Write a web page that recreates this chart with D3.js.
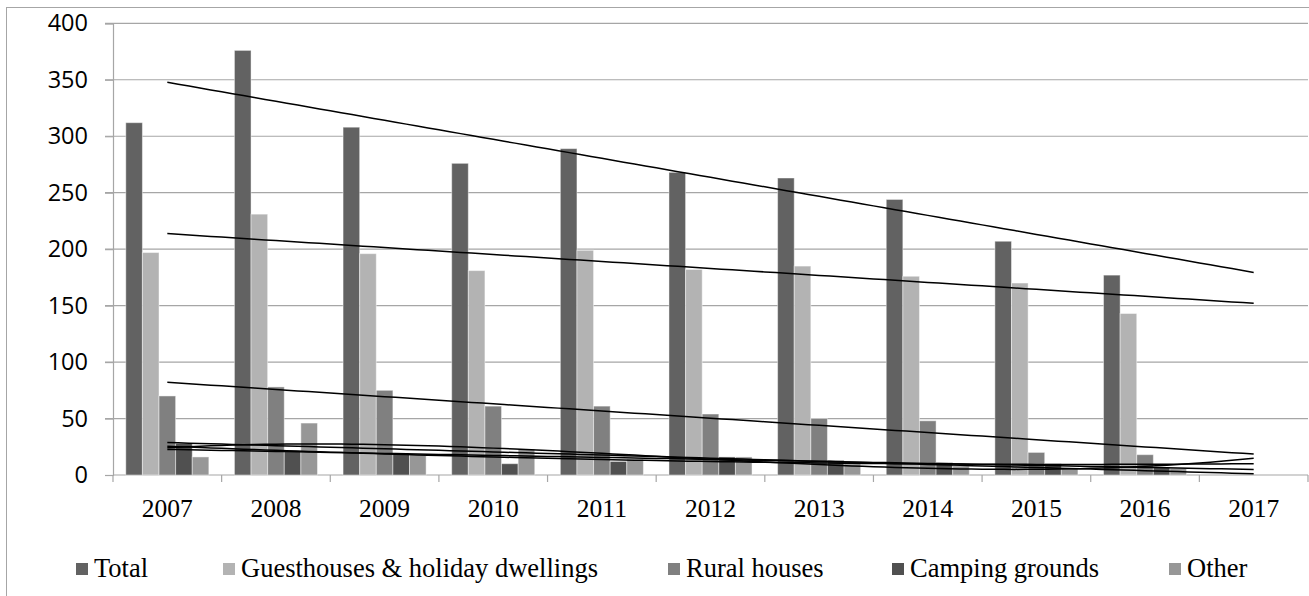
<!DOCTYPE html>
<html>
<head>
<meta charset="utf-8">
<script src="https://cdn.jsdelivr.net/npm/d3@7"></script>
<style>
  body { margin: 0; background: #fff; }
  svg { display: block; }
</style>
</head>
<body>
<svg id="chart" width="1309" height="596"></svg>
<script>
// data
const years = ["2007", "2008", "2009", "2010", "2011", "2012", "2013", "2014", "2015", "2016", "2017"];
const seriesNames = ["Total", "Guesthouses & holiday dwellings", "Rural houses", "Camping grounds", "Other"];
const total   = [312, 376, 308, 276, 289, 268, 263, 244, 207, 177, null];
const guest   = [197, 231, 196, 181, 199, 182, 185, 176, 170, 143, null];
const rural   = [70, 78, 75, 61, 61, 54, 50, 48, 20, 18, null];
const camping = [28, 21, 19, 10, 12, 16, 13, 11, 10, 7, null];
const other   = [16, 46, 18, 23, 14, 16, 10, 8, 6, 6, null];
const yTicks  = [0, 50, 100, 150, 200, 250, 300, 350, 400];

const seriesValues = [total, guest, rural, camping, other];
const colors = ["#626262", "#b3b3b3", "#808080", "#505050", "#979797"];

// trendlines: [series index, polynomial order]
const trends = [[0, 1], [1, 1], [2, 1], [3, 1], [4, 1], [3, 2], [4, 3]];

const svg = d3.select("#chart");
const plotLeft = 113, plotRight = 1308, plotTop = 23.3, plotBottom = 475;

// chart frame
svg.append("rect")
  .attr("x", 6.5).attr("y", 7.5)
  .attr("width", 1400).attr("height", 700)
  .attr("fill", "none").attr("stroke", "#a6a6a6").attr("stroke-width", 1);

const x = d3.scaleBand().domain(years).range([plotLeft, plotRight]).padding(0);
const xs = d3.scaleBand().domain(seriesNames).range([0, x.bandwidth()])
  .paddingInner(0).paddingOuter(0.77);
const y = d3.scaleLinear().domain([0, 400]).range([plotBottom, plotTop]);
// position for a (possibly fractional) 1-based category index
const xIdx = d3.scaleLinear().domain([1, 11])
  .range([x(years[0]) + x.bandwidth() / 2, x(years[10]) + x.bandwidth() / 2]);

// gridlines
svg.append("g").selectAll("line")
  .data(yTicks.filter(d => d > 0))
  .join("line")
  .attr("x1", plotLeft - 8).attr("x2", plotRight)
  .attr("y1", d => y(d)).attr("y2", d => y(d))
  .attr("stroke", "#a6a6a6").attr("stroke-width", 1.2);

// y axis
const yAxis = svg.append("g")
  .attr("transform", `translate(${plotLeft},0)`)
  .call(d3.axisLeft(y).tickValues(yTicks).tickSize(8).tickPadding(17));
yAxis.select(".domain").attr("stroke", "#a6a6a6").attr("stroke-width", 1.2);
yAxis.selectAll(".tick line").attr("stroke", "#a6a6a6").attr("stroke-width", 1.2);
yAxis.selectAll(".tick text")
  .attr("font-family", "'Open Sans', sans-serif")
  .attr("font-size", 23.5).attr("fill", "#000");

// x axis
const xAxisG = svg.append("g").attr("transform", `translate(0,${plotBottom})`);
xAxisG.append("line")
  .attr("x1", plotLeft).attr("x2", plotRight).attr("y1", 0).attr("y2", 0)
  .attr("stroke", "#a6a6a6").attr("stroke-width", 1.2);
xAxisG.selectAll(".cat-tick")
  .data(years.map(d => x(d)).concat([plotRight]))
  .join("line")
  .attr("class", "cat-tick")
  .attr("x1", d => d).attr("x2", d => d)
  .attr("y1", 0).attr("y2", 7)
  .attr("stroke", "#a6a6a6").attr("stroke-width", 1.2);
xAxisG.selectAll("text")
  .data(years)
  .join("text")
  .attr("x", d => x(d) + x.bandwidth() / 2)
  .attr("y", 42)
  .attr("text-anchor", "middle")
  .attr("font-family", "'Liberation Serif', 'Times New Roman', serif")
  .attr("font-size", 25.5)
  .text(d => d);

// bars
const groups = svg.append("g").selectAll("g")
  .data(years)
  .join("g")
  .attr("transform", d => `translate(${x(d)},0)`);
groups.selectAll("rect")
  .data((d, i) => seriesNames.map((s, k) => ({ s, k, v: seriesValues[k][i] })).filter(e => e.v != null))
  .join("rect")
  .attr("x", d => xs(d.s))
  .attr("width", xs.bandwidth())
  .attr("y", d => y(d.v))
  .attr("height", d => y(0) - y(d.v))
  .attr("fill", d => colors[d.k])
  .attr("stroke", "rgba(255,255,255,0.45)")
  .attr("stroke-width", 1);

// least squares polynomial fit
function polyFit(xv, yv, order) {
  const n = order + 1;
  const A = Array.from({ length: n }, () => new Array(n + 1).fill(0));
  for (let p = 0; p < xv.length; p++) {
    for (let r = 0; r < n; r++) {
      for (let c = 0; c < n; c++) A[r][c] += Math.pow(xv[p], r + c);
      A[r][n] += yv[p] * Math.pow(xv[p], r);
    }
  }
  for (let c = 0; c < n; c++) {
    let piv = c;
    for (let r = c + 1; r < n; r++) if (Math.abs(A[r][c]) > Math.abs(A[piv][c])) piv = r;
    [A[c], A[piv]] = [A[piv], A[c]];
    for (let r = 0; r < n; r++) {
      if (r === c) continue;
      const f = A[r][c] / A[c][c];
      for (let k = c; k <= n; k++) A[r][k] -= f * A[c][k];
    }
  }
  const coef = A.map((row, i) => row[n] / row[i]);
  return t => coef.reduce((s, a, i) => s + a * Math.pow(t, i), 0);
}

const line = d3.line().x(d => xIdx(d[0])).y(d => y(d[1]));
trends.forEach(([k, order]) => {
  const pts = seriesValues[k].map((v, i) => [i + 1, v]).filter(d => d[1] != null);
  const f = polyFit(pts.map(d => d[0]), pts.map(d => d[1]), order);
  const samples = d3.range(1, 11.001, 0.1).map(t => [t, f(t)]);
  svg.append("path")
    .attr("d", line(samples))
    .attr("fill", "none")
    .attr("stroke", "#000")
    .attr("stroke-width", 1.5);
});

// legend
const legendX = [76, 223, 668, 892, 1169];
const legend = svg.append("g").selectAll("g")
  .data(seriesNames)
  .join("g")
  .attr("transform", (d, i) => `translate(${legendX[i]},0)`);
legend.append("rect")
  .attr("x", 0).attr("y", 563).attr("width", 12).attr("height", 12)
  .attr("fill", (d, i) => colors[i]);
legend.append("text")
  .attr("x", 18).attr("y", 577)
  .attr("font-family", "'Liberation Serif', 'Times New Roman', serif")
  .attr("font-size", 26.5)
  .text(d => d);
</script>
</body>
</html>
